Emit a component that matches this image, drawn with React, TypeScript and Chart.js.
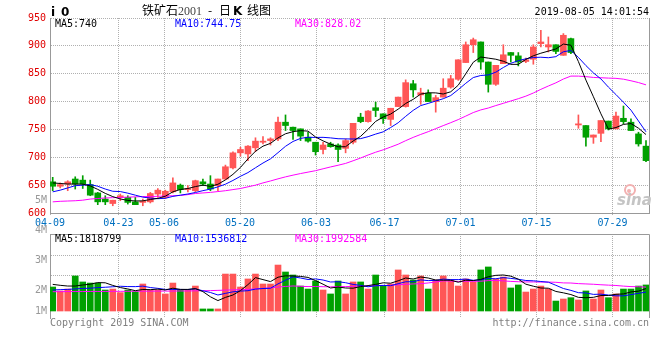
import React, { useEffect, useRef } from 'react';
import { Chart, registerables } from 'chart.js';
Chart.register(...registerables);

// ---------------- data ----------------
const dates = [
  '04-10','04-11','04-12','04-15','04-16','04-17','04-18','04-19','04-22','04-23',
  '04-24','04-25','04-26','04-29','04-30','05-06','05-07','05-08','05-09','05-10',
  '05-13','05-14','05-15','05-16','05-17','05-20','05-21','05-22','05-23','05-24',
  '05-27','05-28','05-29','05-30','05-31','06-03','06-04','06-05','06-06','06-10',
  '06-11','06-12','06-13','06-14','06-17','06-18','06-19','06-20','06-21','06-24',
  '06-25','06-26','06-27','06-28','07-01','07-02','07-03','07-04','07-05','07-08',
  '07-09','07-10','07-11','07-12','07-15','07-16','07-17','07-18','07-19','07-22',
  '07-23','07-24','07-25','07-26','07-29','07-30','07-31','08-01','08-02','08-05',
];
const opens = [
  656,648,652,661,659,651,636,625,617,628, 628,620,619,620,634,628,638,650,642,640,
  656,652,649,661,681,708,706,717,727,730, 733,763,754,751,736,727,714,724,722,716,
  727,772,764,789,778,768,791,791,832,812, 815,800,808,826,840,870,902,907,871,831,
  868,888,882,872,876,904,898,902,883,913, 758,757,736,743,765,751,770,763,742,720,
];
const highs = [
  664,654,658,665,667,659,637,631,623,634, 631,628,625,637,644,641,663,652,649,659,
  661,667,661,686,710,718,721,735,737,735, 772,776,754,751,745,727,727,727,724,733,
  761,779,784,799,778,788,808,839,838,824, 821,811,841,847,875,907,914,907,871,865,
  902,888,888,878,902,928,916,902,922,914, 776,757,740,766,765,781,792,769,745,730,
];
const lows = [
  640,645,640,643,644,631,615,615,613,622, 616,615,613,618,628,626,636,636,638,638,
  649,640,640,660,679,702,694,710,724,722, 730,748,732,730,727,704,706,718,692,708,
  724,762,763,773,761,757,791,790,808,795, 800,781,808,824,838,870,888,858,817,829,
  868,871,864,870,867,898,889,886,883,886, 752,720,725,728,749,751,760,748,720,692,
];
const closes = [
  648,651,656,652,652,632,620,620,623,631, 619,615,621,635,641,639,654,642,644,658,
  652,643,661,683,708,714,720,729,729,733, 763,757,748,738,729,710,722,719,714,730,
  761,764,783,784,769,788,808,834,821,816, 800,807,824,841,875,902,911,871,831,865,
  884,883,871,875,898,907,902,890,919,888, 760,736,740,766,751,774,764,748,724,694,
];
// volume in millions
const volumeMillions = [
  2.0,1.67,1.83,2.92,2.42,2.33,2.33,1.75,1.83,1.53, 1.75,1.61,2.25,1.75,1.75,1.42,2.33,1.75,1.75,2.08,
  0.17,0.17,0.17,3.08,3.08,2.0,2.67,3.08,2.25,2.25, 3.83,3.25,3.0,2.08,1.83,2.5,1.75,1.42,2.5,1.42,
  2.42,2.42,1.83,3.0,2.08,2.25,3.42,3.0,2.58,2.92, 1.83,2.58,2.92,2.58,2.08,2.67,2.42,3.42,3.67,2.67,
  2.83,1.92,2.17,1.58,1.83,2.08,1.83,0.83,1.0,1.11, 0.92,1.67,1.0,1.75,1.11,1.42,1.83,1.83,2.08,2.17,
];
// moving-average values before a full window exists
const ma5Lead = [654, 653, 652, 652];
const ma10Lead = [638, 641, 645, 649, 650, 651, 648, 643, 639];
const ma30Lead = [620,621,621.5,622,623,625,626,627,627.5,628,628.5,629,629.5,629.5,630,630.5,631,631.5,633,635,636,637,638.5,640,642,644,647,650,654];
const volMa5Lead = [2.22, 2.14, 2.08, 2.08];
const volMa10Lead = [1.75, 1.78, 1.8, 1.84, 1.88, 1.9, 1.95, 1.98, 2.02];
const volMa30Lead = [1.61,1.61,1.62,1.62,1.62,1.63,1.63,1.63,1.64,1.64,1.64,1.65,1.65,1.65,1.66,1.66,1.66,1.67,1.67,1.68,1.69,1.7,1.72,1.74,1.76,1.78,1.8,1.84,1.88];

const xLabelDates = ['04-09','04-23','05-06','05-20','06-03','06-17','07-01','07-15','07-29'];
const priceMin = 600;
const priceMax = 950;
const priceStep = 50;
const volGridValues = [2.96, 4.63];
const volAxisLabels = ['4M', '3M', '2M', '1M'];
const volAxisLabelY = [230, 260, 290.5, 311];
const priceLegend = ['MA5:740', 'MA10:744.75', 'MA30:828.02'];
const volLegend = ['MA5:1818799', 'MA10:1536812', 'MA30:1992584'];

// ---------------- styles ----------------
const RED = '#ff5656';
const GREEN = '#00a000';
const FRAME = '#999999';
const GRID = '#b0b0b0';
const MONO = '"DejaVu Sans Mono", monospace';
const CJK = '"Noto Sans CJK SC", sans-serif';
const MA_COLORS = ['#000000', '#0000ff', '#ff00ff'];

function movingAverage(values: number[], n: number, lead: number[]) {
  return values.map((_, i) => {
    if (i < n - 1) return lead[i];
    let s = 0;
    for (let j = i - n + 1; j <= i; j++) s += values[j];
    return s / n;
  });
}

const gridTickValues = xLabelDates.map((d) => Math.max(0, dates.indexOf(d)));

function drawText(ctx: CanvasRenderingContext2D, s: string, x: number, y: number, color: string, font: string, align: CanvasTextAlign = 'left', baseline: CanvasTextBaseline = 'alphabetic') {
  ctx.fillStyle = color;
  ctx.font = font;
  ctx.textAlign = align;
  ctx.textBaseline = baseline;
  ctx.fillText(s, x, y);
}

export default function App() {
  const mainRef = useRef<HTMLCanvasElement>(null);
  const volRef = useRef<HTMLCanvasElement>(null);

  useEffect(() => {
    const up = closes.map((c, i) => c >= opens[i]);
    const colors = up.map((u) => (u ? RED : GREEN));
    const idx = (arr: number[]) => arr.map((v, i) => ({ x: i, y: v }));
    const ma5 = movingAverage(closes, 5, ma5Lead);
    const ma10 = movingAverage(closes, 10, ma10Lead);
    const ma30 = movingAverage(closes, 30, ma30Lead);
    const vma5 = movingAverage(volumeMillions, 5, volMa5Lead);
    const vma10 = movingAverage(volumeMillions, 10, volMa10Lead);
    const vma30 = movingAverage(volumeMillions, 30, volMa30Lead);

    const candleX = () => ({ type: 'linear', min: -0.36, max: 79.4, offset: false, grid: { offset: false }, display: false });
    const gridX = (showLabels: boolean) => ({
      type: 'linear',
      position: 'bottom',
      min: 0,
      max: 78.8,
      offset: false,
      afterBuildTicks: (s: any) => { s.ticks = gridTickValues.map((v) => ({ value: v })); },
      afterFit: (s: any) => { s.height = showLabels ? 19 : 0; },
      ticks: {
        display: showLabels,
        autoSkip: false,
        maxRotation: 0,
        color: '#0070c0',
        font: { family: MONO, size: 10 },
        padding: 1,
        callback: (_v: any, i: number) => xLabelDates[i],
      },
      grid: { offset: false, color: GRID, drawTicks: showLabels, tickLength: 3, tickColor: GRID, tickBorderDash: [1, 1] },
      border: { display: showLabels, color: FRAME, dash: [1, 1] },
    });
    const lineDs = (data: number[], color: string) => ({
      type: 'line', data: idx(data), borderColor: color, borderWidth: 1, pointRadius: 0, tension: 0, order: 0, xAxisID: 'x', yAxisID: 'y',
    });

    const mainPlugin = {
      id: 'mainDecor',
      afterDraw(chart: any) {
        const ctx: CanvasRenderingContext2D = chart.ctx;
        const a = chart.chartArea;
        ctx.save();
        ctx.strokeStyle = FRAME;
        ctx.lineWidth = 1;
        ctx.beginPath();
        ctx.moveTo(Math.round(a.right) + 0.5, a.top);
        ctx.lineTo(Math.round(a.right) + 0.5, a.bottom);
        ctx.stroke();
        // header
        drawText(ctx, 'i', 51, 15.5, '#000', `bold 12px "DejaVu Sans"`);
        drawText(ctx, '0', 61, 15.5, '#000', `bold 12px "DejaVu Sans"`);
        drawText(ctx, '铁矿石', 142, 15, '#000', `12px ${CJK}`);
        drawText(ctx, '2001', 178, 15, '#444', `12px "Liberation Serif"`);
        drawText(ctx, '-', 208, 15, '#000', `12px ${CJK}`);
        drawText(ctx, '日', 219, 15, '#000', `12px ${CJK}`);
        drawText(ctx, 'K', 233, 15, '#000', `bold 12px "DejaVu Sans"`);
        drawText(ctx, '线图', 247, 15, '#000', `12px ${CJK}`);
        drawText(ctx, '2019-08-05 14:01:54', 649, 15, '#000', `10px ${MONO}`, 'right');
        // legend
        const lx = [55, 175, 295];
        priceLegend.forEach((t, i) => drawText(ctx, t, lx[i], 27, MA_COLORS[i], `10px ${MONO}`));
        // stray volume label
        drawText(ctx, '5M', 47, 200, '#999', `10px ${MONO}`, 'right', 'middle');
        // sina watermark
        ctx.strokeStyle = '#f2b0b0';
        ctx.lineWidth = 2;
        ctx.beginPath();
        ctx.arc(630, 190, 5, 0, Math.PI * 2);
        ctx.stroke();
        ctx.fillStyle = '#f2b0b0';
        ctx.beginPath();
        ctx.arc(629, 191, 2, 0, Math.PI * 2);
        ctx.fill();
        drawText(ctx, 'sina', 617, 205, '#c4c4c4', `italic bold 15px "DejaVu Sans"`);
        ctx.restore();
      },
    };

    const volPlugin = {
      id: 'volDecor',
      afterDraw(chart: any) {
        const ctx: CanvasRenderingContext2D = chart.ctx;
        const a = chart.chartArea;
        ctx.save();
        ctx.strokeStyle = FRAME;
        ctx.lineWidth = 1;
        ctx.beginPath();
        ctx.moveTo(a.left, Math.round(a.top) + 0.5);
        ctx.lineTo(Math.round(a.right) + 0.5, Math.round(a.top) + 0.5);
        ctx.lineTo(Math.round(a.right) + 0.5, a.bottom);
        ctx.stroke();
        const lx = [55, 175, 295];
        volLegend.forEach((t, i) => drawText(ctx, t, lx[i], 242, MA_COLORS[i], `10px ${MONO}`));
        volAxisLabels.forEach((t, i) => drawText(ctx, t, 47, volAxisLabelY[i], '#999', `10px ${MONO}`, 'right', 'middle'));
        drawText(ctx, 'Copyright 2019 SINA.COM', 50, 326, '#808080', `10px ${MONO}`);
        drawText(ctx, 'http://finance.sina.com.cn', 649, 326, '#808080', `10px ${MONO}`, 'right');
        ctx.restore();
      },
    };

    const common = {
      animation: false,
      responsive: false,
      devicePixelRatio: 1,
      events: [],
      plugins: { legend: { display: false }, tooltip: { enabled: false } },
    };

    const main = new Chart(mainRef.current!, {
      type: 'bar',
      data: {
        datasets: [
          { type: 'bar', data: dates.map((_, i) => ({ x: i, y: [lows[i], highs[i]] })), backgroundColor: colors, barThickness: 1, grouped: false, order: 2, xAxisID: 'x', yAxisID: 'y' },
          { type: 'bar', data: dates.map((_, i) => ({ x: i, y: [Math.min(opens[i], closes[i]), Math.max(opens[i], closes[i])] })), backgroundColor: colors, barThickness: 6, minBarLength: 1, grouped: false, order: 1, xAxisID: 'x', yAxisID: 'y' },
          lineDs(ma5, MA_COLORS[0]),
          lineDs(ma10, MA_COLORS[1]),
          lineDs(ma30, MA_COLORS[2]),
        ] as any,
      },
      options: {
        ...common,
        layout: { padding: { top: 18, right: 11, bottom: 128, left: 0 } },
        scales: {
          x: candleX(),
          xg: gridX(true),
          y: {
            type: 'linear', min: priceMin, max: priceMax,
            afterFit: (s: any) => { s.width = 50; },
            ticks: { stepSize: priceStep, color: '#e00000', font: { family: MONO, size: 10 }, padding: 4 },
            grid: { color: GRID, drawTicks: false },
            border: { color: FRAME, dash: [1, 1] },
          },
        },
      } as any,
      plugins: [mainPlugin],
    });

    const vol = new Chart(volRef.current!, {
      type: 'bar',
      data: {
        datasets: [
          { type: 'bar', data: idx(volumeMillions), backgroundColor: colors, barThickness: 6, grouped: false, order: 1, xAxisID: 'x', yAxisID: 'y' },
          lineDs(vma5, MA_COLORS[0]),
          lineDs(vma10, MA_COLORS[1]),
          lineDs(vma30, MA_COLORS[2]),
        ] as any,
      },
      options: {
        ...common,
        layout: { padding: { top: 234, right: 11, bottom: 42, left: 0 } },
        scales: {
          x: candleX(),
          xg: gridX(false),
          y: {
            type: 'linear', min: -0.5833, max: 6.4167,
            afterFit: (s: any) => { s.width = 50; },
            afterBuildTicks: (s: any) => { s.ticks = volGridValues.map((v) => ({ value: v })); },
            ticks: { display: false },
            grid: { color: GRID, drawTicks: false },
            border: { color: FRAME, dash: [1, 1] },
          },
        },
      } as any,
      plugins: [volPlugin],
    });

    return () => { main.destroy(); vol.destroy(); };
  }, []);

  return (
    <div style={{ position: 'absolute', left: 0, top: 0, width: 660, height: 360, background: '#fff' }}>
      <canvas ref={mainRef} width={660} height={360} style={{ position: 'absolute', left: 0, top: 0 }} />
      <canvas ref={volRef} width={660} height={360} style={{ position: 'absolute', left: 0, top: 0 }} />
    </div>
  );
}
